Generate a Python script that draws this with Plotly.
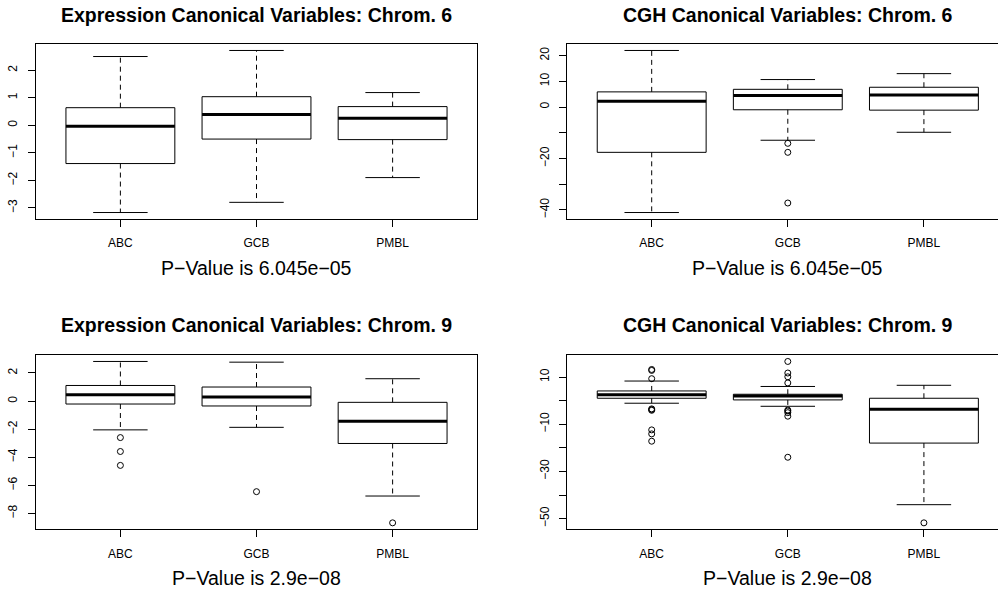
import plotly.graph_objects as go

W, H = 998, 591

groups = ["ABC", "GCB", "PMBL"]

# Panel 1: Expression Canonical Variables, Chrom. 6
p1_lower = [-3.17, -2.80, -1.90]
p1_q1 = [-1.39, -0.50, -0.52]
p1_median = [-0.03, 0.39, 0.26]
p1_q3 = [0.64, 1.04, 0.68]
p1_upper = [2.50, 2.72, 1.19]
p1_outliers = [[], [], []]

# Panel 2: CGH Canonical Variables, Chrom. 6
p2_lower = [-41.0, -12.9, -9.8]
p2_q1 = [-17.6, -1.05, -1.2]
p2_median = [2.3, 4.5, 4.7]
p2_q3 = [5.9, 6.9, 7.7]
p2_upper = [22.0, 10.7, 13.0]
p2_outliers = [[], [-14.1, -17.6, -37.3], []]

# Panel 3: Expression Canonical Variables, Chrom. 9
p3_lower = [-2.05, -1.87, -6.76]
p3_q1 = [-0.21, -0.35, -3.02]
p3_median = [0.45, 0.29, -1.44]
p3_q3 = [1.11, 1.00, -0.09]
p3_upper = [2.82, 2.77, 1.59]
p3_outliers = [[-2.60, -3.59, -4.58], [-6.45], [-8.67]]

# Panel 4: CGH Canonical Variables, Chrom. 9
p4_lower = [-1.1, -2.4, -44.1]
p4_q1 = [1.0, 0.3, -18.0]
p4_median = [2.5, 2.0, -3.7]
p4_q3 = [4.1, 2.7, 1.0]
p4_upper = [8.3, 6.0, 6.5]
p4_outliers = [[12.8, 13.2, 9.3, -3.5, -3.8, -4.1, -12.4, -14.1, -17.2],
               [16.6, 11.7, 10.1, 7.5, -4.0, -4.4, -5.1, -6.6, -24.0],
               [-51.8]]

titles = ["Expression Canonical Variables: Chrom. 6",
          "CGH Canonical Variables: Chrom. 6",
          "Expression Canonical Variables: Chrom. 9",
          "CGH Canonical Variables: Chrom. 9"]
pvalues = ["P\u2212Value is 6.045e\u221205", "P\u2212Value is 6.045e\u221205",
           "P\u2212Value is 2.9e\u221208", "P\u2212Value is 2.9e\u221208"]

p1_ticks = [-3, -2, -1, 0, 1, 2]
p1_ticktext = ["\u22123", "\u22122", "\u22121", "0", "1", "2"]
p2_ticks = [-40, -30, -20, -10, 0, 10, 20]
p2_ticktext = ["\u221240", "", "\u221220", "", "0", "10", "20"]
p3_ticks = [-8, -6, -4, -2, 0, 2]
p3_ticktext = ["\u22128", "\u22126", "\u22124", "\u22122", "0", "2"]
p4_ticks = [-50, -40, -30, -20, -10, 0, 10]
p4_ticktext = ["\u221250", "", "\u221230", "", "\u221210", "", "10"]

panels = [
    (p1_lower, p1_q1, p1_median, p1_q3, p1_upper, p1_outliers, p1_ticks, p1_ticktext),
    (p2_lower, p2_q1, p2_median, p2_q3, p2_upper, p2_outliers, p2_ticks, p2_ticktext),
    (p3_lower, p3_q1, p3_median, p3_q3, p3_upper, p3_outliers, p3_ticks, p3_ticktext),
    (p4_lower, p4_q1, p4_median, p4_q3, p4_upper, p4_outliers, p4_ticks, p4_ticktext),
]

# layout in pixels
left_x = (36, 477)
right_x = (567.3, 998)
top_y = (44, 219)
bot_y = (355, 529.3)
units_per_px = 3.24 / (left_x[1] - left_x[0])
frames = [(left_x, top_y), (right_x, top_y), (left_x, bot_y), (right_x, bot_y)]

BOXW = 0.4
CAPW = 0.2
FONT = "Liberation Sans, Arial, sans-serif"

fig = go.Figure()
layout = dict(width=W, height=H, margin=dict(l=0, r=0, t=0, b=0),
              paper_bgcolor="white", plot_bgcolor="white", showlegend=False,
              font=dict(family=FONT, color="black"))
annotations = []

for k, (lo, q1, med, q3, up, outs, tv, tt) in enumerate(panels):
    ax = "" if k == 0 else str(k + 1)
    xref, yref = "x" + ax, "y" + ax
    bx, by, mx, my, wx, wy, cx, cy, ox, oy = [], [], [], [], [], [], [], [], [], []
    for i in range(3):
        c = i + 1
        bx += [c - BOXW, c + BOXW, c + BOXW, c - BOXW, c - BOXW, None]
        by += [q1[i], q1[i], q3[i], q3[i], q1[i], None]
        mx += [c - BOXW, c + BOXW, None]
        my += [med[i], med[i], None]
        wx += [c, c, None, c, c, None]
        wy += [q3[i], up[i], None, q1[i], lo[i], None]
        cx += [c - CAPW, c + CAPW, None, c - CAPW, c + CAPW, None]
        cy += [up[i], up[i], None, lo[i], lo[i], None]
        ox += [c] * len(outs[i])
        oy += list(outs[i])
    fig.add_trace(go.Scatter(x=wx, y=wy, mode="lines", xaxis=xref, yaxis=yref,
                             line=dict(color="black", width=1, dash="5px,4px"), hoverinfo="skip"))
    fig.add_trace(go.Scatter(x=cx, y=cy, mode="lines", xaxis=xref, yaxis=yref,
                             line=dict(color="black", width=1), hoverinfo="skip"))
    fig.add_trace(go.Scatter(x=bx, y=by, mode="lines", xaxis=xref, yaxis=yref,
                             line=dict(color="black", width=1), hoverinfo="skip"))
    fig.add_trace(go.Scatter(x=mx, y=my, mode="lines", xaxis=xref, yaxis=yref,
                             line=dict(color="black", width=3), hoverinfo="skip"))
    fig.add_trace(go.Scatter(x=ox, y=oy, mode="markers", xaxis=xref, yaxis=yref,
                             marker=dict(symbol="circle-open", size=6, color="black",
                                         line=dict(width=1, color="black")),
                             hoverinfo="skip"))

    allv = lo + up + [v for o in outs for v in o]
    vmin, vmax = min(allv), max(allv)
    pad = 0.04 * (vmax - vmin)
    (x0, x1), (y0, y1) = frames[k]
    xr = [0.38, 0.38 + (x1 - x0) * units_per_px]
    is_left = k in (0, 2)
    layout["xaxis" + ax] = dict(
        domain=[x0 / W, x1 / W], range=xr, anchor=yref,
        tickvals=[1, 2, 3], ticktext=groups, ticks="outside", ticklen=7,
        tickcolor="black", tickwidth=1, showline=True, mirror=True,
        linecolor="black", linewidth=1, showgrid=False, zeroline=False,
        tickfont=dict(size=12, color="black"), ticklabelstandoff=6, fixedrange=True)
    layout["yaxis" + ax] = dict(
        domain=[1 - y1 / H, 1 - y0 / H], range=[vmin - pad, vmax + pad], anchor=xref,
        tickvals=tv, ticktext=tt, ticks="outside", ticklen=7, tickangle=-90,
        tickcolor="black", tickwidth=1, showline=True, mirror=is_left,
        linecolor="black", linewidth=1, showgrid=False, zeroline=False,
        tickfont=dict(size=12, color="black"), ticklabelstandoff=6, fixedrange=True)

    xc = (x0 + (x0 + 3.24 / units_per_px)) / 2
    ty = 15 if k < 2 else 324.5
    sy = 268 if k < 2 else 577.5
    annotations.append(dict(text="<b>" + titles[k] + "</b>", x=xc / W, y=1 - ty / H,
                            xref="paper", yref="paper", showarrow=False,
                            xanchor="center", yanchor="middle",
                            font=dict(size=19.5, family=FONT, color="black")))
    annotations.append(dict(text=pvalues[k], x=xc / W, y=1 - sy / H,
                            xref="paper", yref="paper", showarrow=False,
                            xanchor="center", yanchor="middle",
                            font=dict(size=19.5, family=FONT, color="black")))

layout["annotations"] = annotations
fig.update_layout(**layout)
fig.write_html("out.html", config={"displayModeBar": False},
               post_script="document.body.style.margin='0px';document.body.style.overflow='hidden';")
